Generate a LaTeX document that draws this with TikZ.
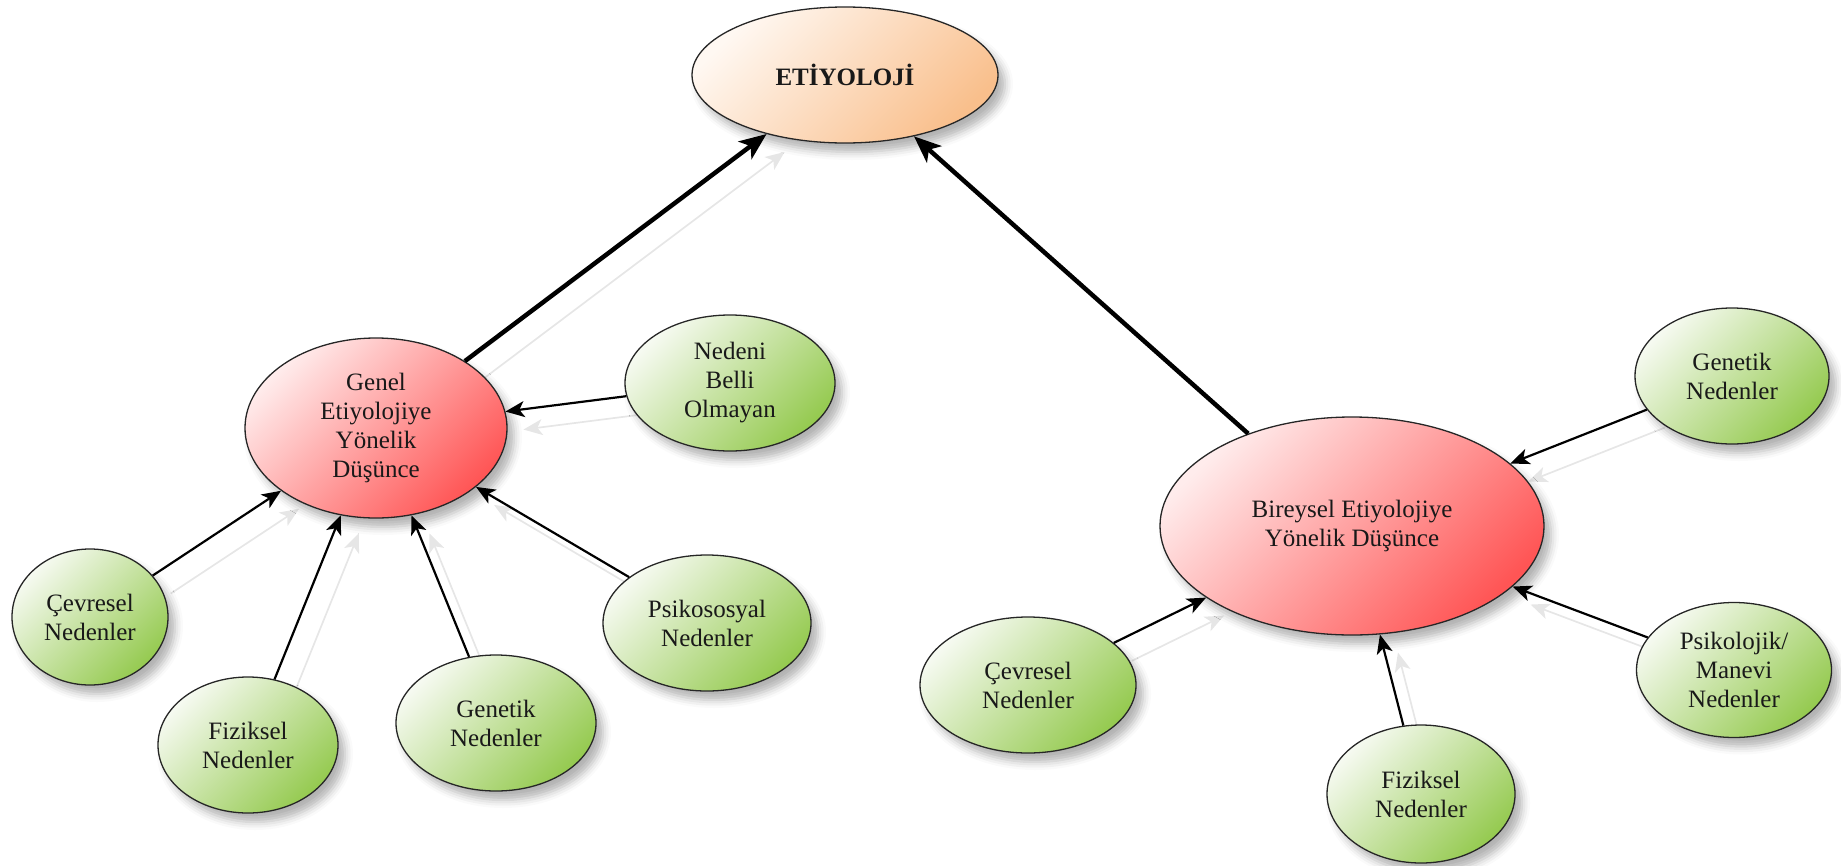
\documentclass[tikz,border=0pt]{standalone}
\usepackage{fontspec}
\setmainfont{Liberation Serif}
\usetikzlibrary{shapes.geometric,arrows.meta,shadows.blur,backgrounds}

\definecolor{peachA}{HTML}{FFF8F2}
\definecolor{peachB}{HTML}{F9BF8C}
\definecolor{redA}{HTML}{FFECEC}
\definecolor{redB}{HTML}{FF5555}
\definecolor{greenA}{HTML}{F6FAF1}
\definecolor{greenB}{HTML}{95CA50}
\definecolor{echogray}{HTML}{E6E6E6}

\tikzset{
  bubble/.style={ellipse, draw=black!85, line width=1.3pt, inner sep=0pt,
    align=center, font=\fontsize{25}{29}\selectfont, text=black!90,
    blur shadow={shadow xshift=7pt, shadow yshift=-9pt,
                 shadow blur radius=8pt, shadow opacity=30}},
  rootnode/.style={bubble, top color=peachA, bottom color=peachB, shading angle=45,
    font=\fontsize{25}{29}\selectfont\bfseries},
  midnode/.style={bubble, top color=redA, bottom color=redB, shading angle=45},
  leafnode/.style={bubble, top color=greenA, bottom color=greenB, shading angle=45},
  link/.style={line width=2.2pt, -{Stealth[length=19pt,width=16pt,inset=5pt]}},
  mainlink/.style={line width=4.5pt, -{Stealth[length=27pt,width=22pt,inset=7pt]}},
  echo/.style={draw=echogray, line width=1.7pt, -{Stealth[length=19pt,width=16pt,inset=5pt]}},
}

\begin{document}
\begin{tikzpicture}[x=1pt, y=-1pt]
  \useasboundingbox (0,0) rectangle (1841,865);

  % top node
  \node[rootnode, minimum width=306pt, minimum height=136pt] (eti) at (845,75) {ETİYOLOJİ};

  % left branch
  \node[midnode, minimum width=262pt, minimum height=180pt] (genel) at (376,428)
    {Genel\\Etiyolojiye\\Yönelik\\Düşünce};
  \node[leafnode, minimum width=210pt, minimum height=136pt] (nedeni) at (730,383)
    {Nedeni\\Belli\\Olmayan};
  \node[leafnode, minimum width=156pt, minimum height=136pt] (cevL) at (90,617)
    {Çevresel\\Nedenler};
  \node[leafnode, minimum width=180pt, minimum height=136pt] (fizL) at (248,745)
    {Fiziksel\\Nedenler};
  \node[leafnode, minimum width=200pt, minimum height=136pt] (genL) at (496,723)
    {Genetik\\Nedenler};
  \node[leafnode, minimum width=208pt, minimum height=136pt] (psikos) at (707,623)
    {Psikososyal\\Nedenler};

  % right branch
  \node[midnode, minimum width=384pt, minimum height=218pt] (bir) at (1352,526)
    {Bireysel Etiyolojiye\\Yönelik Düşünce};
  \node[leafnode, minimum width=194pt, minimum height=136pt] (genR) at (1732,376)
    {Genetik\\Nedenler};
  \node[leafnode, minimum width=195pt, minimum height=135pt] (psikol) at (1734,670)
    {Psikolojik/\\Manevi\\Nedenler};
  \node[leafnode, minimum width=188pt, minimum height=138pt] (fizR) at (1421,794)
    {Fiziksel\\Nedenler};
  \node[leafnode, minimum width=216pt, minimum height=136pt] (cevR) at (1028,685)
    {Çevresel\\Nedenler};

  % faint reflections of the connectors, beneath the nodes
  \begin{pgfonlayer}{background}
    \begin{scope}[transform canvas={xshift=18pt, yshift=-18pt}]
      \draw[echo] (genel) -- (eti);
      \draw[echo] (nedeni) -- (genel);
      \draw[echo] (cevL) -- (genel);
      \draw[echo] (fizL) -- (genel);
      \draw[echo] (genL) -- (genel);
      \draw[echo] (psikos) -- (genel);
      \draw[echo] (genR) -- (bir);
      \draw[echo] (psikol) -- (bir);
      \draw[echo] (fizR) -- (bir);
      \draw[echo] (cevR) -- (bir);
    \end{scope}
  \end{pgfonlayer}

  % connectors
  \draw[mainlink] (genel) -- (eti);
  \draw[mainlink] (bir) -- (eti);
  \draw[link] (nedeni) -- (genel);
  \draw[link] (cevL) -- (genel);
  \draw[link] (fizL) -- (genel);
  \draw[link] (genL) -- (genel);
  \draw[link] (psikos) -- (genel);
  \draw[link] (genR) -- (bir);
  \draw[link] (psikol) -- (bir);
  \draw[link] (fizR) -- (bir);
  \draw[link] (cevR) -- (bir);
\end{tikzpicture}
\end{document}
